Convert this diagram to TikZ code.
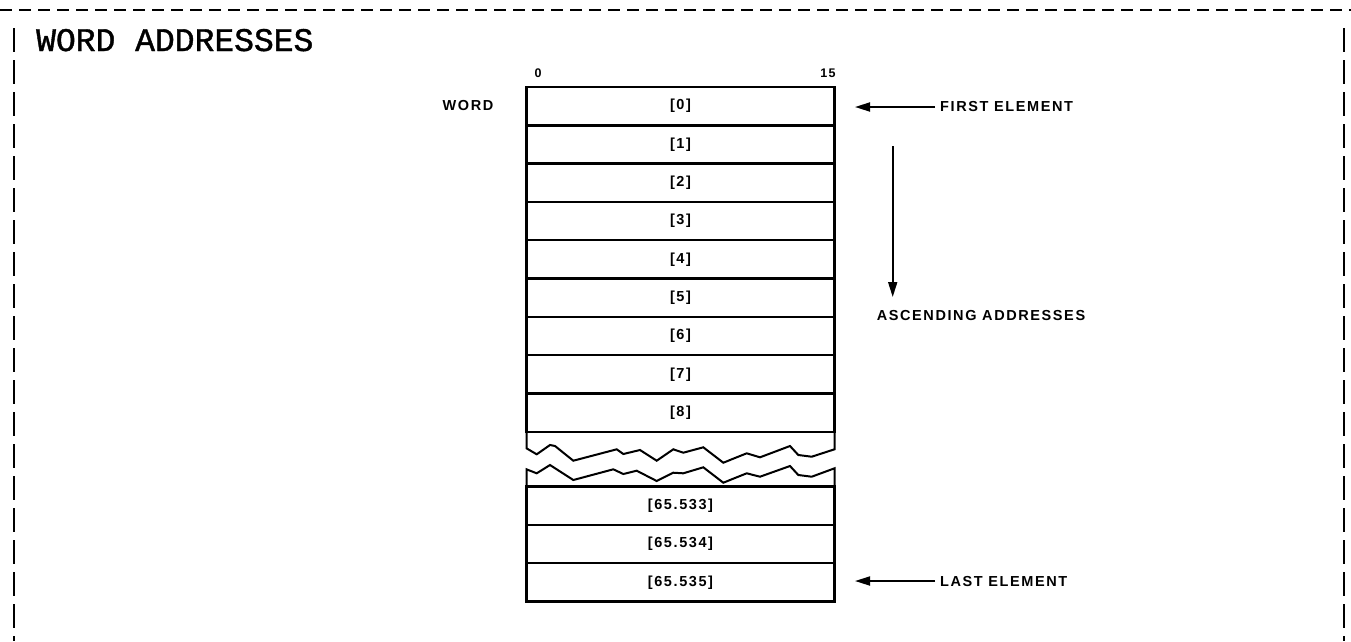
\documentclass[tikz,border=0pt]{standalone}
\usepackage{fontspec}
\setmainfont{Liberation Sans}
\setmonofont{Liberation Mono}
\newfontfamily\lblfont[LetterSpace=11]{Liberation Sans Bold}
\newfontfamily\titlefont[FakeBold=1.2]{Liberation Mono}
\usetikzlibrary{arrows.meta, positioning}

\begin{document}
\begin{tikzpicture}[x=1pt, y=-1pt,
    cell/.style={rectangle, draw, line width=2.4pt, outer sep=0pt, inner sep=0pt,
                 minimum width=308pt, minimum height=38.3pt,
                 font=\lblfont\fontsize{14.5}{16}\selectfont},
    lbl/.style={inner sep=5pt, font=\lblfont\fontsize{14.5}{16}\selectfont},
    bitno/.style={inner sep=0pt, font=\lblfont\fontsize{12.5}{14}\selectfont},
    ptr/.style={-{Triangle[length=15pt, width=9pt]}, line width=1.8pt},
    brk/.style={line width=2pt, line join=miter},
    frame/.style={line width=2.5pt},
]
\useasboundingbox (0,0) rectangle (1351,641);

% dashed frame round the figure
\draw[frame, dash pattern=on 12pt off 7pt] (0,10) -- (1351,10);
\draw[frame, dash pattern=on 24pt off 8pt] (14,28) -- (14,641);
\draw[frame, dash pattern=on 24pt off 8pt] (1344,28) -- (1344,641);

\node[anchor=base west, inner sep=0pt, font=\titlefont\fontsize{33}{36}\selectfont] (title) at (36,51) {WORD ADDRESSES};

% bit numbers and row label
\node[bitno] (b0) at (538,73) {0};
\node[bitno] (b15) at (828,73) {15};
\node[lbl] (word) at (468,106) {WORD};

% first words of memory
\node[cell] (c0) at (680.5,106.15) {[0]};
\node[cell, below=0pt of c0] (c1) {[1]};
\node[cell, below=0pt of c1] (c2) {[2]};
\node[cell, below=0pt of c2] (c3) {[3]};
\node[cell, below=0pt of c3] (c4) {[4]};
\node[cell, below=0pt of c4] (c5) {[5]};
\node[cell, below=0pt of c5] (c6) {[6]};
\node[cell, below=0pt of c6] (c7) {[7]};
\node[cell, below=0pt of c7] (c8) {[8]};

% last words of memory
\node[cell] (d0) at (680.5,505.65) {[65.533]};
\node[cell, below=0pt of d0] (d1) {[65.534]};
\node[cell, below=0pt of d1] (d2) {[65.535]};

% torn edges between the two parts
\draw[brk] (c8.south west) -- (526.5,448.3) -- (536.7,454.3) -- (550,445) -- (555,446)
  -- (573.3,460.7) -- (616.7,449.3) -- (623.3,454) -- (640,450) -- (656.7,460.7)
  -- (673.3,449.3) -- (683.3,452.7) -- (703.3,447.3) -- (723.3,462.7) -- (746.7,453.3)
  -- (760,457.3) -- (790,446) -- (798.3,455) -- (811.7,456.7) -- (834.5,449.3) -- (c8.south east);
\draw[brk] (d0.north west) -- (526.5,469.3) -- (536.7,473.3) -- (550,465) -- (573.3,480)
  -- (613.3,469.3) -- (623.3,474) -- (636.7,470.7) -- (656.7,481) -- (673.3,472.7)
  -- (683.3,473.3) -- (703.3,467.3) -- (723.3,482.7) -- (746.7,473.3) -- (760,476.7)
  -- (790,466) -- (798.3,475) -- (811.7,476.7) -- (834.5,468.3) -- (d0.north east);

% pointers on the right
\node[lbl, anchor=west] (first) at (935,107) {FIRST ELEMENT};
\coordinate (firsttip) at (855,107);
\draw[ptr] (first.west) -- (firsttip);

\node[lbl] (asc) at (981,315) {ASCENDING ADDRESSES};
\coordinate (ascstart) at (892.7,146);
\coordinate (asctip) at (892.7,297);
\draw[ptr] (ascstart) -- (asctip);

\node[lbl, anchor=west] (last) at (935,581) {LAST ELEMENT};
\coordinate (lasttip) at (855,581);
\draw[ptr] (last.west) -- (lasttip);

\end{tikzpicture}
\end{document}
